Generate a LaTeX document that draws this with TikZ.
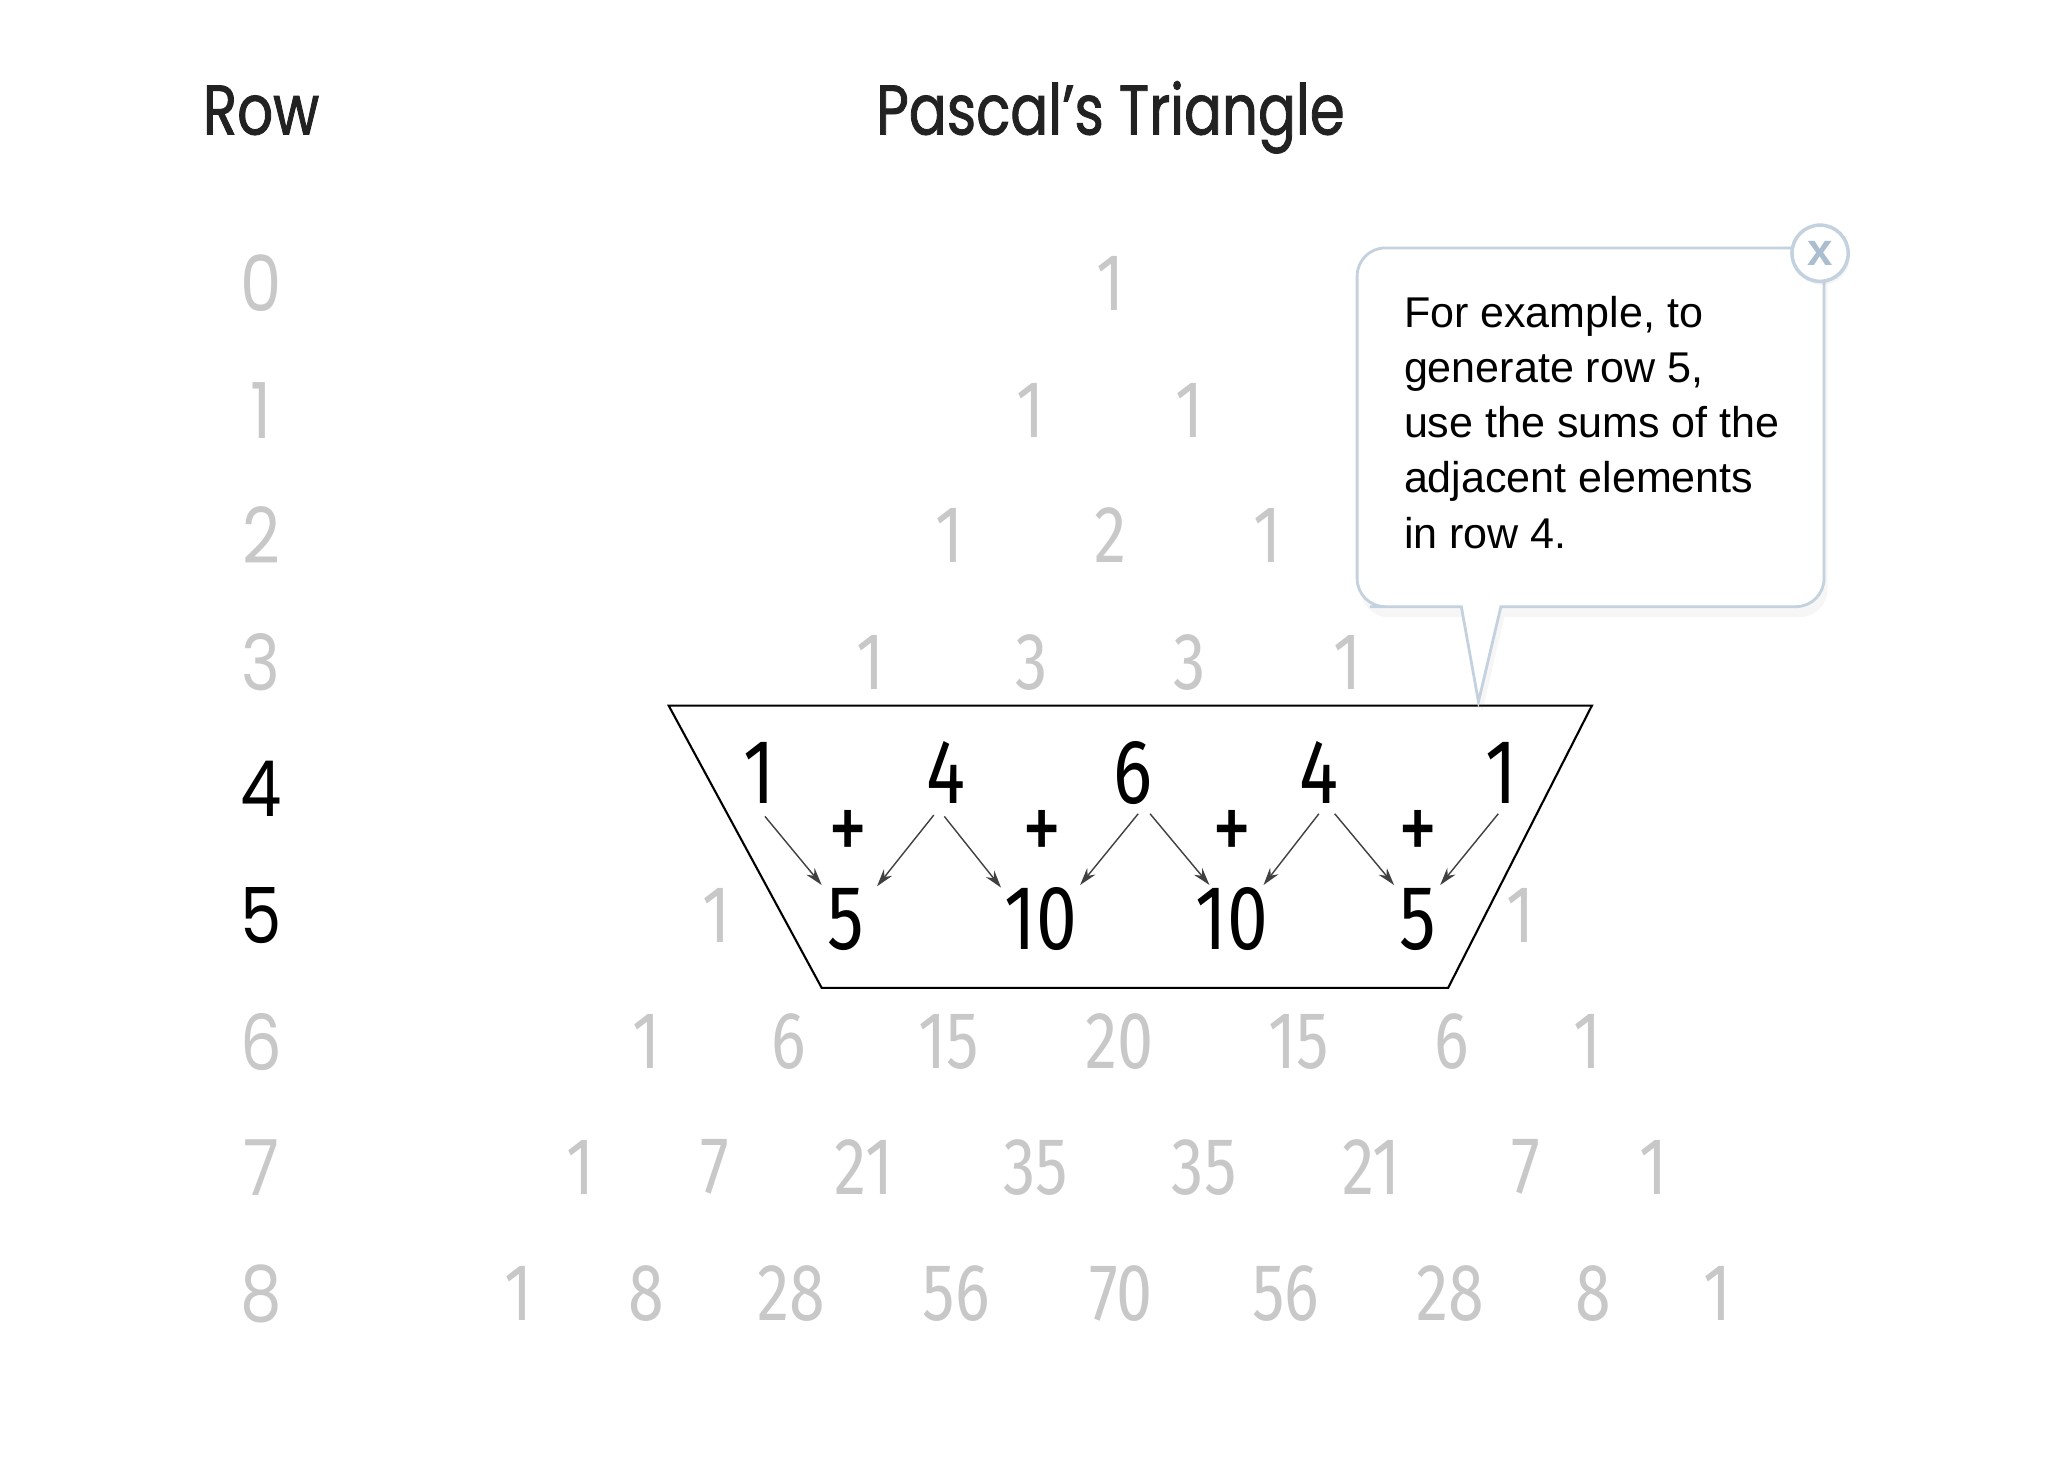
\documentclass[tikz,border=0pt]{standalone}
\usepackage{fontspec}
\setmainfont{Liberation Sans}
\newfontfamily\headfont[FakeStretch=0.8, FakeBold=1.2]{Poppins}
\newfontfamily\labelfont[FakeStretch=0.85]{Poppins}
\newfontfamily\numfont[FakeStretch=0.8]{Fira Sans}
\usetikzlibrary{arrows.meta,calc,shadows}
\definecolor{faint}{RGB}{200,200,200}
\definecolor{ink}{RGB}{34,34,34}
\definecolor{tipline}{RGB}{196,210,224}
\definecolor{tipx}{RGB}{170,190,208}

\begin{document}
\begin{tikzpicture}[
    x=0.13189mm, y=-0.13189mm,
    heading/.style={anchor=base, text=ink, inner sep=0pt, font=\headfont\fontsize{20}{20}\selectfont},
    rowlabel/.style={text=faint, inner sep=0pt, font=\labelfont\fontsize{22}{22}\selectfont},
    cell/.style={text=faint, inner sep=0pt, font=\numfont\fontsize{23}{23}\selectfont},
    hot/.style={text=black, inner sep=0pt, font=\numfont\fontsize{26}{26}\selectfont},
    plus/.style={inner sep=0pt, font=\numfont\fontsize{28}{28}\selectfont},
    sumarrow/.style={-{Stealth[length=5pt,width=3pt]}, line width=0.4pt, draw=black!75},
    bubble/.style={draw=tipline, line width=0.8pt, fill=white,
        drop shadow={opacity=0.07, shadow xshift=1pt, shadow yshift=-3pt}}
]
\useasboundingbox[fill=white] (0,0) rectangle (1568,1121);

% Headings
\node[heading] (rowhead) at (198,102) {Row};
\node[heading] (title) at (842,102) {Pascal’s Triangle};

% Row numbers
\node[rowlabel] (row0) at (198,215) {0};
\node[rowlabel] (row1) at (198,311) {1};
\node[rowlabel] (row2) at (198,406) {2};
\node[rowlabel] (row3) at (198,502) {3};
\node[rowlabel, text=black] (row4) at (198,598) {4};
\node[rowlabel, text=black] (row5) at (198,694) {5};
\node[rowlabel] (row6) at (198,790) {6};
\node[rowlabel] (row7) at (198,885) {7};
\node[rowlabel] (row8) at (198,981) {8};

% Rows 0 to 3
\node[cell] (p0-1) at (842,215) {1};
\node[cell] (p1-1) at (781,311) {1};
\node[cell] (p1-2) at (902,311) {1};
\node[cell] (p2-1) at (720,406) {1};
\node[cell] (p2-2) at (842,406) {2};
\node[cell] (p2-3) at (961,406) {1};
\node[cell] (p3-1) at (660,502) {1};
\node[cell] (p3-2) at (782,502) {3};
\node[cell] (p3-3) at (902,502) {3};
\node[cell] (p3-4) at (1022,502) {1};

% Frame round rows 4 and 5
\draw[line width=0.6pt] (507,535) -- (1207,535) -- (1098,749) -- (623,749) -- cycle;

% Row 4
\node[hot] (p4-1) at (576,586) {1};
\node[hot] (p4-2) at (717,586) {4};
\node[hot] (p4-3) at (859,586) {6};
\node[hot] (p4-4) at (1000,586) {4};
\node[hot] (p4-5) at (1138,586) {1};

% Plus signs
\node[plus] (plus1) at (643,634) {+};
\node[plus] (plus2) at (790,634) {+};
\node[plus] (plus3) at (934,634) {+};
\node[plus] (plus4) at (1075,634) {+};

% Row 5
\node[cell] (p5-1) at (543,694) {1};
\node[hot] (p5-2) at (641,697) {5};
\node[hot] (p5-3) at (789,697) {10};
\node[hot] (p5-4) at (934,697) {10};
\node[hot] (p5-5) at (1075,697) {5};
\node[cell] (p5-6) at (1153,694) {1};

% Sums from row 4 into row 5
\draw[sumarrow] ($(p4-1)+(4,33)$) -- ($(p5-2)+(-18,-26)$);
\draw[sumarrow] ($(p4-2)+(-9,32)$) -- ($(p5-2)+(24,-25)$);
\draw[sumarrow] ($(p4-2)+(-1,33)$) -- ($(p5-3)+(-30,-24)$);
\draw[sumarrow] ($(p4-3)+(4,31)$) -- ($(p5-3)+(30,-26)$);
\draw[sumarrow] ($(p4-3)+(13,31)$) -- ($(p5-4)+(-17,-26)$);
\draw[sumarrow] ($(p4-4)+(0,31)$) -- ($(p5-4)+(24,-26)$);
\draw[sumarrow] ($(p4-4)+(12,31)$) -- ($(p5-5)+(-18,-26)$);
\draw[sumarrow] ($(p4-5)+(-2,31)$) -- ($(p5-5)+(17,-26)$);

% Rows 6 to 8
\node[cell] (p6-1) at (490,790) {1};
\node[cell] (p6-2) at (598,790) {6};
\node[cell] (p6-3) at (719,790) {15};
\node[cell] (p6-4) at (849,790) {20};
\node[cell] (p6-5) at (985,790) {15};
\node[cell] (p6-6) at (1101,790) {6};
\node[cell] (p6-7) at (1204,790) {1};
\node[cell] (p7-1) at (440,885) {1};
\node[cell] (p7-2) at (542,885) {7};
\node[cell] (p7-3) at (655,885) {21};
\node[cell] (p7-4) at (785,885) {35};
\node[cell] (p7-5) at (913,885) {35};
\node[cell] (p7-6) at (1040,885) {21};
\node[cell] (p7-7) at (1157,885) {7};
\node[cell] (p7-8) at (1254,885) {1};
\node[cell] (p8-1) at (393,981) {1};
\node[cell] (p8-2) at (490,981) {8};
\node[cell] (p8-3) at (600,981) {28};
\node[cell] (p8-4) at (725,981) {56};
\node[cell] (p8-5) at (850,981) {70};
\node[cell] (p8-6) at (975,981) {56};
\node[cell] (p8-7) at (1100,981) {28};
\node[cell] (p8-8) at (1208,981) {8};
\node[cell] (p8-9) at (1302,981) {1};

% Callout
\coordinate (tip) at (1121,532);
\path[bubble] (1108,460) -- (tip) -- (1138,460) [rounded corners=8pt]
    -- (1383,460) -- (1383,188) -- (1029,188) -- (1029,460) -- (1060,460)
    [sharp corners] -- cycle;
\node[anchor=north west, align=left, inner sep=0pt,
    font=\fontsize{12.25}{15.7}\selectfont] (note) at (1064,224)
    {For example, to\\generate row 5,\\use the sums of the\\adjacent elements\\in row 4.};
\node[circle, draw=tipline, line width=1pt, fill=white, minimum size=16pt, inner sep=0pt,
    text=tipx, font=\bfseries\fontsize{13}{13}\selectfont,
    drop shadow={opacity=0.08, shadow xshift=0.5pt, shadow yshift=-1pt}] (close) at (1380,192) {x};

\end{tikzpicture}
\end{document}
